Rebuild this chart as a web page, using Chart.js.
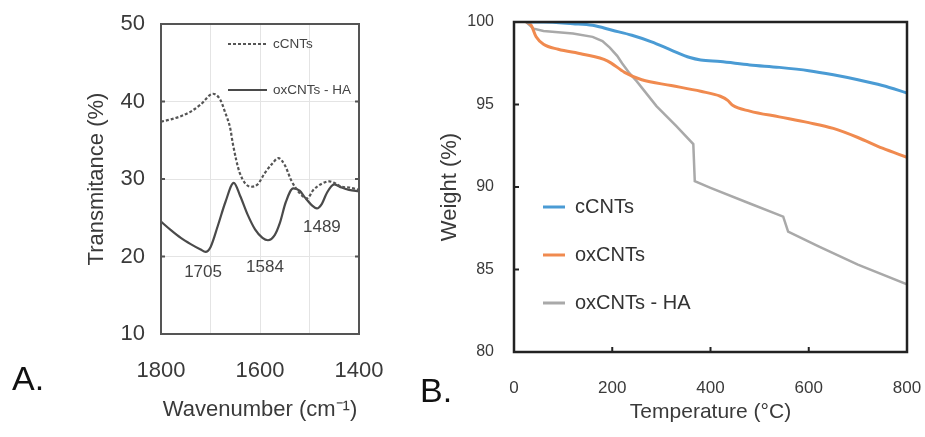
<!DOCTYPE html>
<html>
<head>
<meta charset="utf-8">
<script src="https://cdn.jsdelivr.net/npm/chart.js@4"></script>
<style>
  body { margin: 0; background: #fff; width: 925px; height: 437px; overflow: hidden; position: relative;
         font-family: "Liberation Sans", Arial, sans-serif; }
  .box { position: absolute; top: 0; height: 437px; }
  #boxA { left: 0; width: 400px; }
  #boxB { left: 400px; width: 525px; }
  .tag { position: absolute; font-size: 34px; line-height: 1; color: #111; }
</style>
</head>
<body>
<div class="box" id="boxA"><canvas id="ftir"></canvas></div>
<div class="box" id="boxB"><canvas id="tga"></canvas></div>
<div class="tag" style="left:12px;top:361px">A.</div>
<div class="tag" style="left:420px;top:373px">B.</div>

<script>
// ---- panel A : FTIR ----
const cWave  = [1800, 1780, 1760, 1740, 1720, 1695, 1680, 1671, 1660, 1655, 1641, 1618, 1605, 1590, 1575, 1563, 1550, 1536, 1520, 1505, 1492, 1475, 1460, 1450, 1435, 1420, 1400];
const cTrans = [37.4, 37.7, 38.1, 38.7, 39.6, 41.0, 40.2, 38.7, 36.5, 34.6, 30.8, 29.0, 29.3, 30.8, 32.0, 32.7, 31.8, 29.7, 28.2, 27.5, 28.6, 29.4, 29.7, 29.5, 29.0, 28.9, 28.6];

const haWave  = [1800, 1780, 1760, 1740, 1720, 1710, 1700, 1685, 1670, 1653, 1640, 1625, 1610, 1595, 1584, 1570, 1560, 1548, 1533, 1520, 1509, 1495, 1485, 1475, 1465, 1450, 1435, 1420, 1400];
const haTrans = [24.5, 23.4, 22.4, 21.6, 20.9, 20.6, 21.2, 24.0, 27.0, 29.5, 27.8, 25.4, 23.5, 22.4, 22.1, 22.8, 24.3, 27.0, 28.8, 28.5, 27.6, 26.6, 26.2, 26.8, 28.2, 29.3, 28.9, 28.6, 28.4];

const peakText = ['1705', '1584', '1489'];

// ---- panel B : TGA ----
const cTemp   = [25, 60, 120, 160, 200, 240, 280, 320, 358, 380, 420, 480, 540, 600, 650, 700, 750, 800];
const cWeight = [100, 100, 99.9, 99.8, 99.5, 99.2, 98.8, 98.3, 97.85, 97.7, 97.6, 97.4, 97.25, 97.05, 96.8, 96.5, 96.15, 95.7];

const oxTemp   = [25, 35, 45, 60, 90, 140, 190, 225, 260, 320, 380, 420, 435, 445, 480, 540, 600, 650, 700, 750, 800];
const oxWeight = [100, 99.8, 99.1, 98.65, 98.35, 98.05, 97.65, 96.95, 96.5, 96.15, 95.8, 95.5, 95.25, 94.95, 94.6, 94.25, 93.9, 93.55, 93.0, 92.35, 91.8];

const haTemp   = [25, 32, 40, 60, 120, 160, 180, 195, 210, 220, 235, 250, 290, 330, 365, 368, 400, 480, 548, 558, 620, 700, 800];
const haWeight = [100, 99.8, 99.6, 99.45, 99.3, 99.1, 98.85, 98.45, 97.95, 97.5, 96.9, 96.4, 94.9, 93.7, 92.6, 90.35, 89.95, 89.0, 88.2, 87.3, 86.4, 85.3, 84.1];

const pts = (xs, ys) => xs.map((x, i) => ({ x: x, y: ys[i] }));

Chart.defaults.font.family = '"Liberation Sans", Arial, sans-serif';
Chart.defaults.color = '#3a3a3a';

// fixed axis sizes, and stop edge labels from pushing the plot area around
const fixX = h => s => { s.height = h; s.paddingLeft = 0; s.paddingRight = 0; };
const fixY = w => s => { s.width = w; s.paddingTop = 0; s.paddingBottom = 0; };

// border round the plot + small inward ticks
const framePlugin = {
  id: 'frame',
  afterDatasetsDraw(chart, args, o) {
    const { ctx, chartArea: a, scales } = chart;
    ctx.save();
    ctx.strokeStyle = o.color;
    ctx.lineWidth = o.width;
    ctx.strokeRect(a.left, a.top, a.right - a.left, a.bottom - a.top);
    ctx.lineWidth = 2;
    (o.yTicks || []).forEach(v => {
      const y = scales.y.getPixelForValue(v);
      ctx.beginPath(); ctx.moveTo(a.left, y); ctx.lineTo(a.left + o.tickLen, y);
      if (o.both) { ctx.moveTo(a.right, y); ctx.lineTo(a.right - o.tickLen, y); }
      ctx.stroke();
    });
    (o.xTicks || []).forEach(v => {
      const x = scales.x.getPixelForValue(v);
      ctx.beginPath(); ctx.moveTo(x, a.bottom); ctx.lineTo(x, a.bottom - o.tickLen); ctx.stroke();
    });
    ctx.restore();
  }
};

// legend drawn inside the plot
const innerLegend = {
  id: 'innerLegend',
  afterDraw(chart, args, o) {
    const ctx = chart.ctx;
    ctx.save();
    ctx.font = o.font;
    ctx.textBaseline = 'middle';
    chart.data.datasets.forEach((ds, i) => {
      const y = o.y + i * o.rowH;
      ctx.strokeStyle = ds.borderColor;
      ctx.lineWidth = o.lineWidth;
      ctx.setLineDash(ds.borderDash || []);
      ctx.beginPath(); ctx.moveTo(o.x, y); ctx.lineTo(o.x + o.lineLen, y); ctx.stroke();
      ctx.setLineDash([]);
      ctx.fillStyle = o.color;
      ctx.fillText(ds.label, o.x + o.lineLen + o.gap, y);
    });
    ctx.restore();
  }
};

// peak labels, placed in data units
const peakLabels = {
  id: 'peakLabels',
  afterDraw(chart, args, o) {
    const { ctx, scales } = chart;
    ctx.save();
    ctx.font = o.font;
    ctx.fillStyle = o.color;
    ctx.textAlign = 'center';
    ctx.textBaseline = 'middle';
    o.at.forEach((p, i) => {
      ctx.fillText(peakText[i], scales.x.getPixelForValue(p[0]), scales.y.getPixelForValue(p[1]));
    });
    ctx.restore();
  }
};

new Chart(document.getElementById('ftir'), {
  type: 'line',
  data: {
    datasets: [
      { label: 'cCNTs', data: pts(cWave, cTrans), borderColor: '#555', borderWidth: 2.2, borderDash: [3, 2],
        pointRadius: 0, cubicInterpolationMode: 'monotone' },
      { label: 'oxCNTs - HA', data: pts(haWave, haTrans), borderColor: '#4a4a4a', borderWidth: 2.2,
        pointRadius: 0, cubicInterpolationMode: 'monotone' }
    ]
  },
  options: {
    responsive: true, maintainAspectRatio: false, animation: false,
    layout: { padding: { top: 24, right: 41, left: 0, bottom: 0 } },
    scales: {
      x: {
        type: 'linear', min: 1400, max: 1800, reverse: true,
        afterFit: fixX(103),
        grid: { color: '#e4e4e4', drawTicks: false },
        border: { display: false },
        ticks: { stepSize: 100, padding: 24, font: { size: 22 }, color: '#3a3a3a',
                 maxRotation: 0, minRotation: 0, autoSkip: false,
                 callback: v => (v % 200 === 0 ? v : '') },
        title: { display: true, text: 'Wavenumber (cm⁻¹)', font: { size: 22 }, color: '#3a3a3a',
                 padding: { top: 0, bottom: 14 } }
      },
      y: {
        min: 10, max: 50,
        afterFit: fixY(161),
        grid: { color: '#e4e4e4', drawTicks: false },
        border: { display: false },
        ticks: { stepSize: 10, padding: 16, font: { size: 22 }, color: '#3a3a3a' },
        title: { display: true, text: 'Transmitance (%)', font: { size: 22 }, color: '#3a3a3a',
                 padding: { top: 84, bottom: 0 } }
      }
    },
    plugins: {
      legend: { display: false },
      tooltip: { enabled: false },
      frame: { color: '#555', width: 2, tickLen: 4, yTicks: [20, 30, 40], both: true, xTicks: [] },
      innerLegend: { x: 228, y: 44, rowH: 46, lineLen: 39, gap: 6, lineWidth: 2.2,
                     font: '13.5px "Liberation Sans", Arial, sans-serif', color: '#444' },
      peakLabels: { at: [[1715, 17.9], [1590, 18.6], [1475, 23.8]],
                    font: '17px "Liberation Sans", Arial, sans-serif', color: '#444' }
    }
  },
  plugins: [framePlugin, innerLegend, peakLabels]
});

new Chart(document.getElementById('tga'), {
  type: 'line',
  data: {
    datasets: [
      { label: 'cCNTs', data: pts(cTemp, cWeight), borderColor: '#4a9bd4', borderWidth: 3,
        pointRadius: 0, cubicInterpolationMode: 'monotone' },
      { label: 'oxCNTs', data: pts(oxTemp, oxWeight), borderColor: '#f08a4f', borderWidth: 3,
        pointRadius: 0, cubicInterpolationMode: 'monotone' },
      { label: 'oxCNTs - HA', data: pts(haTemp, haWeight), borderColor: '#a9a9a9', borderWidth: 2.5,
        pointRadius: 0, tension: 0 }
    ]
  },
  options: {
    responsive: true, maintainAspectRatio: false, animation: false,
    layout: { padding: { top: 22, right: 18, left: 0, bottom: 0 } },
    scales: {
      x: {
        type: 'linear', min: 0, max: 800,
        afterFit: fixX(85),
        grid: { display: false },
        border: { display: false },
        ticks: { stepSize: 200, padding: 18, font: { size: 17 }, color: '#3a3a3a', maxRotation: 0 },
        title: { display: true, text: 'Temperature (°C)', font: { size: 21 }, color: '#3a3a3a',
                 padding: { top: 0, bottom: 12 } }
      },
      y: {
        min: 80, max: 100,
        afterFit: fixY(114),
        grid: { display: false },
        border: { display: false },
        ticks: { stepSize: 5, padding: 12, font: { size: 16 }, color: '#3a3a3a' },
        title: { display: true, text: 'Weight (%)', font: { size: 22 }, color: '#3a3a3a',
                 padding: { top: 37, bottom: 0 } }
      }
    },
    plugins: {
      legend: { display: false },
      tooltip: { enabled: false },
      frame: { color: '#222', width: 2.5, tickLen: 5, yTicks: [85, 90, 95], xTicks: [200, 400, 600] },
      innerLegend: { x: 143, y: 207, rowH: 48, lineLen: 22, gap: 10, lineWidth: 3,
                     font: '20px "Liberation Sans", Arial, sans-serif', color: '#333' }
    }
  },
  plugins: [framePlugin, innerLegend]
});
</script>
</body>
</html>
